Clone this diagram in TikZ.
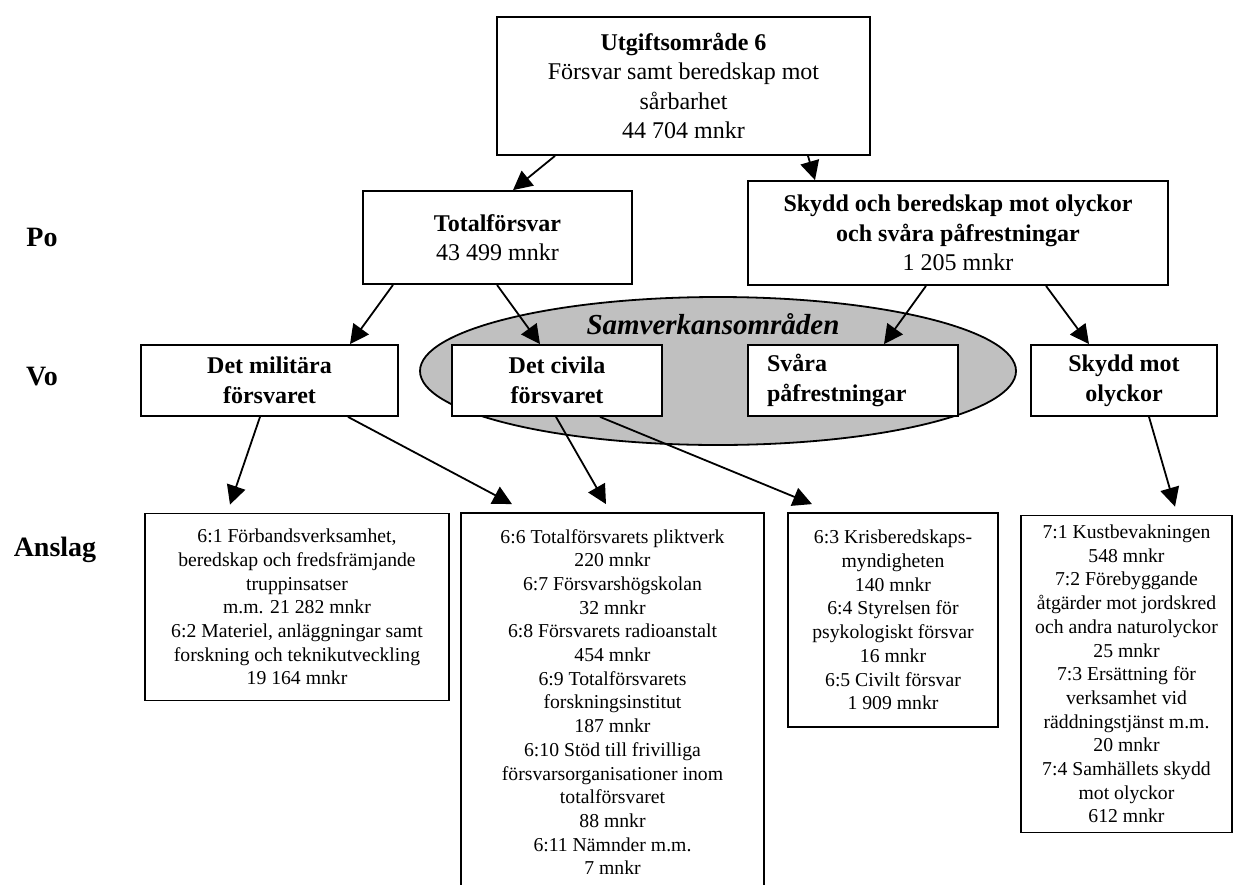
\documentclass[tikz,border=0pt]{standalone}
\usepackage{fontspec}
\setmainfont{Liberation Serif}
\usetikzlibrary{arrows.meta,shapes.geometric}
\definecolor{samv_gray}{RGB}{192,192,192}

\begin{document}
\begin{tikzpicture}
  [x=1pt,y=-1pt]
      \tikzstyle{box_style} = [draw=black, fill=white, line width=1.8pt, align=center, inner sep=0pt]
      \tikzstyle{head_font} = [font=\fontsize{24}{29.5}\selectfont]
      \tikzstyle{vo_font} = [font=\fontsize{24}{30}\selectfont\bfseries]
      \tikzstyle{post_font} = [font=\fontsize{19.7}{23.7}\selectfont]
      \tikzstyle{level_style} = [font=\fontsize{28}{32}\selectfont\bfseries]
      \tikzstyle{edge_style} = [draw=black, line width=1.8pt, -{Triangle[length=19pt,width=19pt]}]
  \useasboundingbox (0,0) rectangle (1234,884);

  \node[level_style] (po) at (42,237) {Po};
  \node[level_style] (vo) at (42,377) {Vo};
  \node[level_style] (anslag) at (55,550) {Anslag};

  \node[ellipse, draw=black, line width=1.8pt, fill=samv_gray, minimum width=596pt, minimum height=148pt, inner sep=0pt] (samv) at (718,371) {};
  \node[font=\fontsize{29}{33}\selectfont\bfseries\itshape] (samv_text) at (713,324) {Samverkansområden};

  \node[box_style, head_font, minimum width=373pt, minimum height=138pt] (uo) at (683.5,86) {\textbf{Utgiftsområde 6}\\Försvar samt beredskap mot\\sårbarhet\\44 704 mnkr};
  \node[box_style, head_font, minimum width=269pt, minimum height=93pt] (tot) at (497.5,237.5) {\textbf{Totalförsvar}\\43 499 mnkr};
  \node[box_style, head_font, minimum width=420pt, minimum height=104pt] (sbo) at (958,233) {\textbf{Skydd och beredskap mot olyckor}\\\textbf{och svåra påfrestningar}\\1 205 mnkr};

  \node[box_style, vo_font, minimum width=257pt, minimum height=71pt] (mil) at (269.5,380.5) {Det militära\\försvaret};
  \node[box_style, vo_font, minimum width=210pt, minimum height=71pt] (civ) at (557,380.5) {Det civila\\försvaret};
  \node[box_style, vo_font, align=left, text width=172pt, inner xsep=19pt, minimum height=71pt] (svara) at (853,380.5) {Svåra\\påfrestningar};
  \node[box_style, vo_font, minimum width=186pt, minimum height=71pt] (smo) at (1124,380.5) {Skydd mot\\olyckor};

  \node[box_style, post_font, minimum width=304pt, minimum height=187pt] (a1) at (297,607) {6:1 Förbandsverksamhet,\\beredskap och fredsfrämjande\\truppinsatser\\m.m. 21 282 mnkr\\6:2 Materiel, anläggningar samt\\forskning och teknikutveckling\\19 164 mnkr};
  \node[box_style, post_font, minimum width=303pt, minimum height=378pt] (a2) at (612.5,702) {6:6 Totalförsvarets pliktverk\\220 mnkr\\6:7 Försvarshögskolan\\32 mnkr\\6:8 Försvarets radioanstalt\\454 mnkr\\6:9 Totalförsvarets\\forskningsinstitut\\187 mnkr\\6:10 Stöd till frivilliga\\försvarsorganisationer inom\\totalförsvaret\\88 mnkr\\6:11 Nämnder m.m.\\7 mnkr};
  \node[box_style, post_font, minimum width=210pt, minimum height=214pt] (a3) at (893,620) {6:3 Krisberedskaps-\\myndigheten\\140 mnkr\\6:4 Styrelsen för\\psykologiskt försvar\\16 mnkr\\6:5 Civilt försvar\\1 909 mnkr};
  \node[box_style, post_font, minimum width=211pt, minimum height=317pt] (a4) at (1126.5,674) {7:1 Kustbevakningen\\548 mnkr\\7:2 Förebyggande\\åtgärder mot jordskred\\och andra naturolyckor\\25 mnkr\\7:3 Ersättning för\\verksamhet vid\\räddningstjänst m.m.\\20 mnkr\\7:4 Samhällets skydd\\mot olyckor\\612 mnkr};

  \draw[edge_style] ([xshift=-128.5pt]uo.south) -- ([xshift=15.5pt]tot.north);
  \draw[edge_style] ([xshift=124.5pt]uo.south) -- ([xshift=-143pt]sbo.north);
  \draw[edge_style] ([xshift=-104.5pt]tot.south) -- ([xshift=80.5pt]mil.north);
  \draw[edge_style] ([xshift=-0.5pt]tot.south) -- ([xshift=-17pt]civ.north);
  \draw[edge_style] ([xshift=-32pt]sbo.south) -- ([xshift=31pt]svara.north);
  \draw[edge_style] ([xshift=88pt]sbo.south) -- ([xshift=-35pt]smo.north);
  \draw[edge_style] ([xshift=-9.5pt]mil.south) -- ([xshift=-67pt,yshift=8pt]a1.north);
  \draw[edge_style] ([xshift=78.5pt]mil.south) -- ([xshift=-100.5pt,yshift=8pt]a2.north);
  \draw[edge_style] ([xshift=-1pt]civ.south) -- ([xshift=-6.5pt,yshift=8pt]a2.north);
  \draw[edge_style] ([xshift=43pt]civ.south) -- ([xshift=-81pt,yshift=8pt]a3.north);
  \draw[edge_style] ([xshift=25pt]smo.south) -- ([xshift=48.5pt,yshift=8pt]a4.north);
\end{tikzpicture}
\end{document}
